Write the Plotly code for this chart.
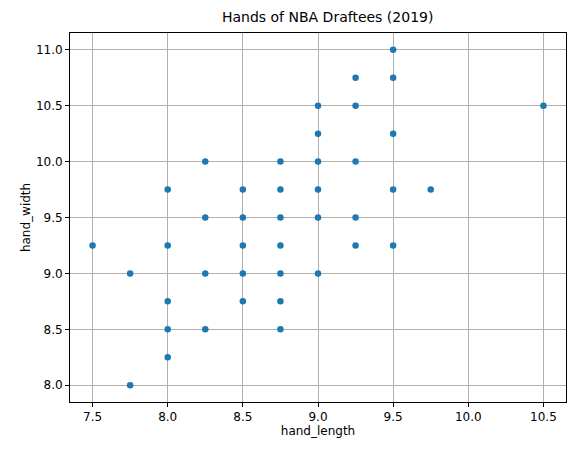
import plotly.graph_objects as go

hand_length = [7.5, 7.75, 7.75,
               8.0, 8.0, 8.0, 8.0, 8.0,
               8.25, 8.25, 8.25, 8.25,
               8.5, 8.5, 8.5, 8.5, 8.5,
               8.75, 8.75, 8.75, 8.75, 8.75, 8.75, 8.75,
               9.0, 9.0, 9.0, 9.0, 9.0, 9.0,
               9.25, 9.25, 9.25, 9.25, 9.25,
               9.5, 9.5, 9.5, 9.5, 9.5,
               9.75, 10.5]
hand_width = [9.25, 9.0, 8.0,
              9.75, 9.25, 8.75, 8.5, 8.25,
              10.0, 9.5, 9.0, 8.5,
              9.75, 9.5, 9.25, 9.0, 8.75,
              10.0, 9.75, 9.5, 9.25, 9.0, 8.75, 8.5,
              10.5, 10.25, 10.0, 9.75, 9.5, 9.0,
              10.75, 10.5, 10.0, 9.5, 9.25,
              11.0, 10.75, 10.25, 9.75, 9.25,
              9.75, 10.5]

fig = go.Figure(go.Scatter(x=hand_length, y=hand_width, mode="markers",
                           marker=dict(color="#1f77b4", size=6.5)))

axis_style = dict(showgrid=True, gridcolor="#b0b0b0", gridwidth=1,
                  showline=True, linecolor="black", mirror=True,
                  ticks="outside", ticklen=4, tickcolor="black",
                  zeroline=False, automargin=False,
                  tickfont=dict(size=12, color="black"))

# page body adds an 8px offset, so margins are shifted to compensate
fig.update_layout(
    width=576, height=455,
    title=dict(text="Hands of NBA Draftees (2019)", x=0.555, xanchor="center",
               y=1.0, yanchor="top", pad=dict(t=4),
               font=dict(size=14, color="black")),
    font=dict(family="DejaVu Sans", color="black"),
    plot_bgcolor="white", paper_bgcolor="white",
    margin=dict(l=62, r=18, t=25, b=61, autoexpand=False),
    showlegend=False,
    xaxis=dict(title=dict(text="hand_length", font=dict(size=12), standoff=0),
               range=[7.35, 10.65], tickvals=[7.5, 8.0, 8.5, 9.0, 9.5, 10.0, 10.5],
               tickformat=".1f", **axis_style),
    yaxis=dict(title=dict(text="hand_width", font=dict(size=12), standoff=2),
               range=[7.85, 11.15], tickvals=[8.0, 8.5, 9.0, 9.5, 10.0, 10.5, 11.0],
               tickformat=".1f", **axis_style),
)

fig.write_html("out.html")
